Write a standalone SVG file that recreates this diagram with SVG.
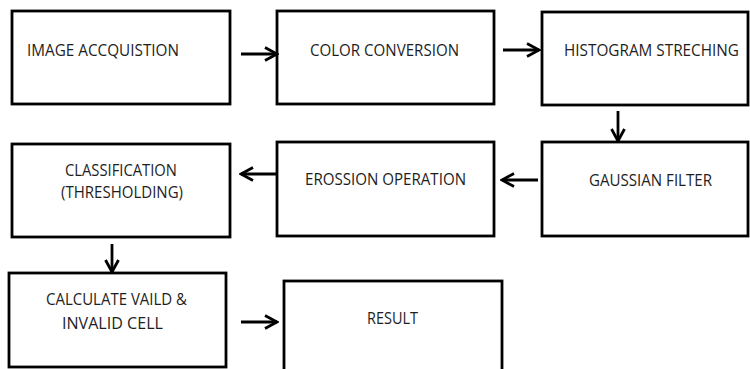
<svg xmlns="http://www.w3.org/2000/svg" width="750" height="369" viewBox="0 0 750 369">
<style>
.box{fill:#fff;stroke:#000;stroke-width:2.8}
.t{font-family:"Open Sans","Liberation Sans",sans-serif;font-size:17px;fill:#1e1e1e}
.c line{stroke:#000;stroke-width:2.8}
</style>
<defs>
<marker id="ah" viewBox="0 0 16 16" refX="14" refY="8" markerWidth="16" markerHeight="16" markerUnits="userSpaceOnUse" orient="auto">
<path d="M2,1.5 L14,8 L2,14.5" fill="none" stroke="#000" stroke-width="2.8"/>
</marker>
</defs>
<rect width="750" height="369" fill="#fff"/>
<g id="n1"><rect class="box" x="12" y="11" width="218" height="93"/><text class="t" x="27" y="56" textLength="152" lengthAdjust="spacingAndGlyphs">IMAGE ACCQUISTION</text></g>
<g id="n2"><rect class="box" x="277" y="11" width="217" height="93"/><text class="t" x="310" y="56" textLength="149" lengthAdjust="spacingAndGlyphs">COLOR CONVERSION</text></g>
<g id="n3"><rect class="box" x="542" y="12" width="206" height="93"/><text class="t" x="564" y="56" textLength="175" lengthAdjust="spacingAndGlyphs">HISTOGRAM STRECHING</text></g>
<g id="n4"><rect class="box" x="12" y="144" width="218" height="93"/><text class="t" x="65" y="176" textLength="112" lengthAdjust="spacingAndGlyphs">CLASSIFICATION</text><text class="t" x="61" y="198" textLength="122" lengthAdjust="spacingAndGlyphs">(THRESHOLDING)</text></g>
<g id="n5"><rect class="box" x="277" y="142" width="217" height="94"/><text class="t" x="305" y="185" textLength="161" lengthAdjust="spacingAndGlyphs">EROSSION OPERATION</text></g>
<g id="n6"><rect class="box" x="542" y="142" width="206" height="94"/><text class="t" x="589" y="186" textLength="123" lengthAdjust="spacingAndGlyphs">GAUSSIAN FILTER</text></g>
<g id="n7"><rect class="box" x="9" y="273" width="217" height="94"/><text class="t" x="46" y="305" textLength="141" lengthAdjust="spacingAndGlyphs">CALCULATE VAILD &amp;</text><text class="t" x="62" y="329" textLength="101" lengthAdjust="spacingAndGlyphs">INVALID CELL</text></g>
<g id="n8"><rect class="box" x="284" y="281" width="218" height="100"/><text class="t" x="367" y="324" textLength="51" lengthAdjust="spacingAndGlyphs">RESULT</text></g>
<g id="connectors" class="c">
<line x1="241" y1="54" x2="277" y2="54" marker-end="url(#ah)"/>
<line x1="503" y1="50" x2="539" y2="50" marker-end="url(#ah)"/>
<line x1="618" y1="111" x2="618" y2="141" marker-end="url(#ah)"/>
<line x1="277" y1="174" x2="241" y2="174" marker-end="url(#ah)"/>
<line x1="538" y1="180" x2="502" y2="180" marker-end="url(#ah)"/>
<line x1="112" y1="244" x2="112" y2="272" marker-end="url(#ah)"/>
<line x1="241" y1="322" x2="277" y2="322" marker-end="url(#ah)"/>
</g>
</svg>
